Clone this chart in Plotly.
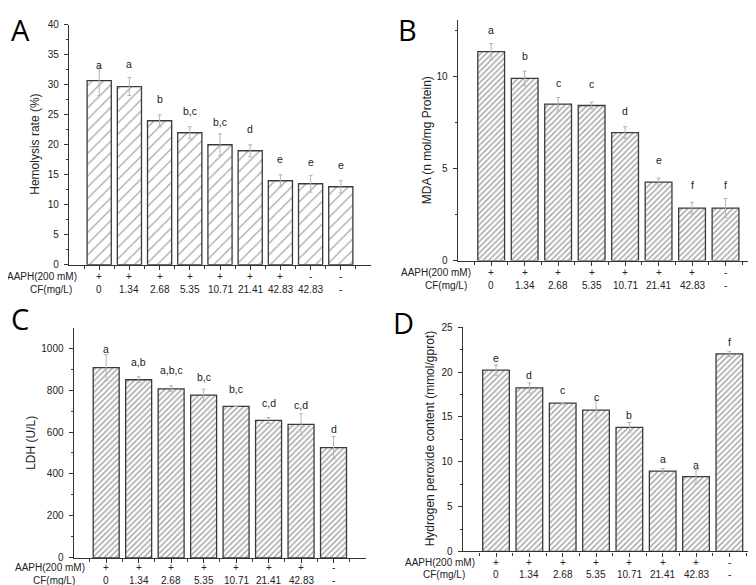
import plotly.graph_objects as go

# ---------------- data ----------------
aaph_A = ["+", "+", "+", "+", "+", "+", "+", "-", "-"]
cf_A = ["0", "1.34", "2.68", "5.35", "10.71", "21.41", "42.83", "42.83", "-"]
aaph_8 = ["+", "+", "+", "+", "+", "+", "+", "-"]
cf_8 = ["0", "1.34", "2.68", "5.35", "10.71", "21.41", "42.83", "-"]

hemolysis = [30.7, 29.7, 24.0, 22.0, 20.0, 19.0, 14.0, 13.5, 13.0]
hemolysis_err = [2.5, 1.5, 1.0, 1.0, 1.8, 1.0, 1.0, 1.4, 1.0]
hemolysis_sig = ["a", "a", "b", "b,c", "b,c", "d", "e", "e", "e"]
hemolysis_sig_y = [33.3, 33.5, 27.7, 25.7, 23.8, 22.7, 17.7, 17.2, 16.6]

mda = [11.35, 9.89, 8.49, 8.42, 6.95, 4.26, 2.85, 2.85]
mda_err = [0.44, 0.39, 0.36, 0.18, 0.32, 0.21, 0.31, 0.52]
mda_sig = ["a", "b", "c", "c", "d", "e", "f", "f"]
mda_sig_y = [12.54, 11.12, 9.63, 9.57, 8.12, 5.46, 4.11, 4.11]

ldh = [907, 849, 806, 776, 722, 655, 636, 526]
ldh_err = [62, 14, 14, 28, 0, 14, 51, 53]
ldh_sig = ["a", "a,b", "a,b,c", "b,c", "b,c", "c,d", "c,d", "d"]
ldh_sig_y = [995, 933, 894, 863, 806, 739, 728, 613]

h2o2 = [20.2, 18.23, 16.52, 15.76, 13.83, 8.95, 8.33, 22.02]
h2o2_err = [0.55, 0.55, 0.1, 1.1, 0.54, 0.3, 0.77, 0.3]
h2o2_sig = ["e", "d", "c", "c", "b", "a", "a", "f"]
h2o2_sig_y = [21.54, 19.65, 17.94, 17.18, 15.21, 10.3, 9.64, 23.4]

W, H = 756, 585
FONT = "Liberation Sans, Arial, sans-serif"
AXC = "#333333"

panels = [
    dict(name="A", vals=hemolysis, err=hemolysis_err, sig=hemolysis_sig, sig_y=hemolysis_sig_y,
         aaph=aaph_A, cf=cf_A, ytitle="Hemolysis rate (%)",
         xpx=(61, 363), ypx=(11, 256), yrange=(0, 40), dtick=5, minor=2.5,
         pat=8, sol=0.16, fg="#505050",
         letter=(1, 16), ytitle_x=27, aaph_y=268, cf_y=281, aaph_r=71, cf_r=66),
    dict(name="B", vals=mda, err=mda_err, sig=mda_sig, sig_y=mda_sig_y,
         aaph=aaph_8, cf=cf_8, ytitle="MDA (n mol/mg Protein)",
         xpx=(449.7, 751), ypx=(6, 251.7), yrange=(0, 13.07), dtick=5, minor=2.5,
         pat=4, sol=0.38, fg="#555555",
         letter=(388, 16), ytitle_x=419, aaph_y=264, cf_y=277, aaph_r=465, cf_r=461),
    dict(name="C", vals=ldh, err=ldh_err, sig=ldh_sig, sig_y=ldh_sig_y,
         aaph=aaph_8, cf=cf_8, ytitle="LDH (U/L)",
         xpx=(65.7, 358), ypx=(320.3, 555.3), yrange=(0, 1097), dtick=200, minor=100,
         pat=4, sol=0.38, fg="#555555",
         letter=(1, 311), ytitle_x=23, aaph_y=565.3, cf_y=578, aaph_r=79, cf_r=69),
    dict(name="D", vals=h2o2, err=h2o2_err, sig=h2o2_sig, sig_y=h2o2_sig_y,
         aaph=aaph_8, cf=cf_8, ytitle="Hydrogen peroxide content (mmol/gprot)",
         xpx=(454.7, 754.7), ypx=(319.7, 548.7), yrange=(0, 25), dtick=5, minor=2.5,
         pat=4, sol=0.38, fg="#555555",
         letter=(383, 315), ytitle_x=422, aaph_y=559.7, cf_y=572, aaph_r=468.7, cf_r=458.7),
]

fig = go.Figure()
annotations = []
layout = {}

for i, p in enumerate(panels):
    k = "" if i == 0 else str(i + 1)
    n = len(p["vals"])
    xs = list(range(n))
    fig.add_trace(go.Bar(
        x=xs, y=p["vals"], width=0.8,
        xaxis="x" + k, yaxis="y" + k,
        marker=dict(color="white", line=dict(color="#3a3a3a", width=1.3),
                    pattern=dict(shape="/", fgcolor=p["fg"], bgcolor="white",
                                 size=p["pat"], solidity=p["sol"])),
        error_y=dict(type="data", array=p["err"], visible=True, color="#b5b5b5",
                     thickness=1, width=2),
        showlegend=False,
    ))
    x0 = p["xpx"][0] / W
    x1 = p["xpx"][1] / W
    y0 = 1 - p["ypx"][1] / H
    y1 = 1 - p["ypx"][0] / H
    layout["xaxis" + k] = dict(
        domain=[x0, x1], range=[-1, n], anchor="y" + k,
        showline=True, linecolor=AXC, linewidth=1.3, showgrid=False, zeroline=False,
        tickvals=xs, ticks="outside", ticklen=4, tickcolor=AXC, tickwidth=1,
        showticklabels=False,
        minor=dict(tickvals=[j + 0.5 for j in range(-1, n)], ticks="outside",
                   ticklen=3, tickcolor=AXC, tickwidth=1),
    )
    layout["yaxis" + k] = dict(
        domain=[y0, y1], range=list(p["yrange"]), anchor="x" + k,
        showline=True, linecolor=AXC, linewidth=1.3, showgrid=False, zeroline=False,
        dtick=p["dtick"], tick0=0, ticks="outside", ticklen=4, tickcolor=AXC, tickwidth=1,
        ticklabelstandoff=3,
        tickfont=dict(family=FONT, size=10, color="#222"),
        minor=dict(dtick=p["minor"], tick0=0, ticks="outside", ticklen=2,
                   tickcolor=AXC, tickwidth=1, showgrid=False),
    )
    # significance letters
    for xi, s, sy in zip(xs, p["sig"], p["sig_y"]):
        annotations.append(dict(x=xi, y=sy, xref="x" + k, yref="y" + k, text=s,
                                showarrow=False, yanchor="middle",
                                font=dict(family=FONT, size=10.5, color="#222")))
    # bottom rows
    for xi, a, c in zip(xs, p["aaph"], p["cf"]):
        annotations.append(dict(x=xi, y=1 - p["aaph_y"] / H, xref="x" + k, yref="paper",
                                text=a, showarrow=False, yanchor="middle",
                                font=dict(family=FONT, size=10, color="#222")))
        annotations.append(dict(x=xi, y=1 - p["cf_y"] / H, xref="x" + k, yref="paper",
                                text=c, showarrow=False, yanchor="middle",
                                font=dict(family=FONT, size=10, color="#222")))
    annotations.append(dict(x=p["aaph_r"] / W, y=1 - p["aaph_y"] / H, xref="paper", yref="paper",
                            text="AAPH(200 mM)", showarrow=False, xanchor="right", yanchor="middle",
                            font=dict(family=FONT, size=10, color="#222")))
    annotations.append(dict(x=p["cf_r"] / W, y=1 - p["cf_y"] / H, xref="paper", yref="paper",
                            text="CF(mg/L)", showarrow=False, xanchor="right", yanchor="middle",
                            font=dict(family=FONT, size=10, color="#222")))
    # y title
    annotations.append(dict(x=p["ytitle_x"] / W, y=(y0 + y1) / 2, xref="paper", yref="paper",
                            text=p["ytitle"], textangle=-90, showarrow=False,
                            xanchor="center", yanchor="middle",
                            font=dict(family=FONT, size=12, color="#222")))
    # panel letter
    annotations.append(dict(x=p["letter"][0] / W, y=1 - p["letter"][1] / H, xref="paper", yref="paper",
                            text=p["name"], showarrow=False, xanchor="left", yanchor="middle",
                            font=dict(family="Open Sans, sans-serif", size=29, color="black")))

fig.update_layout(
    width=W, height=H,
    margin=dict(l=0, r=0, t=0, b=0),
    paper_bgcolor="white", plot_bgcolor="white",
    bargap=0.2,
    annotations=annotations,
    **layout,
)

fig.write_html("out.html")
